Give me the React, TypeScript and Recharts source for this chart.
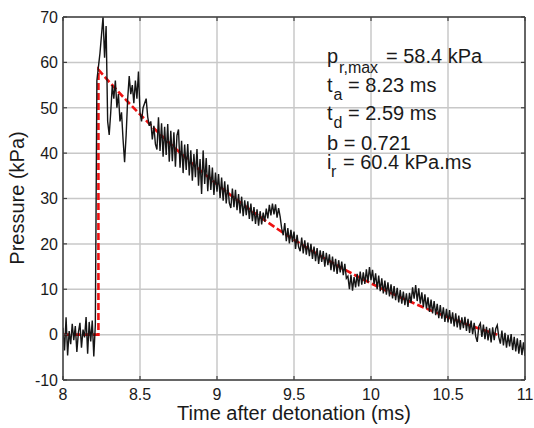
import React from 'react';
import { LineChart, Line, XAxis, YAxis, CartesianGrid } from 'recharts';

const X_TICKS = [8, 8.5, 9, 9.5, 10, 10.5, 11];
const Y_TICKS = [-10, 0, 10, 20, 30, 40, 50, 60, 70];
const X_MIN = 8;
const X_MAX = 11;
const Y_MIN = -10;
const Y_MAX = 70;

// measured pressure (kPa), sampled every 0.01 ms from 8.00 ms
const T_START = 8.0;
const T_STEP = 0.01;
const measuredPressure = [
  // 8.00 - 8.21
  1.5, -3.5, 3.8, -4.6, 0.8, -2.1, 2.4, -1.2, 1.9, -3.8, 0.5, 2.6, -2.9, 1.1, -0.6, 3.9, -4.2, 2.8, -1.5, 3.1, -4.8, 2.2,
  // 8.22 - 8.60
  56, 59, 62, 66, 70, 61, 68, 47, 44, 49, 55, 52, 56, 50, 53, 47, 49, 43, 38, 44,
  52, 57, 53, 55, 51, 56, 52, 58, 49, 47, 50, 51, 52, 48, 46, 47, 43, 46, 42,
  // 8.61 - 11.00
  40.8, 47.9, 40.5, 46.6, 39.2, 45.8, 39.6, 46.4, 38.1, 44.9,
  38.2, 44.6, 37.0, 43.9, 45.2, 36.8, 42.7, 35.6, 41.9, 36.3,
  42.0, 35.1, 40.6, 33.9, 39.8, 34.7, 40.9, 32.8, 38.7, 31.0,
  40.6, 33.2, 38.9, 31.6, 37.4, 31.9, 36.8, 30.8, 35.7, 31.5,
  35.4, 30.1, 34.6, 29.5, 33.8, 28.9, 33.1, 29.0, 27.9, 32.2,
  28.1, 31.9, 27.4, 31.0, 26.7, 30.4, 26.1, 29.6, 26.3, 29.4,
  25.5, 28.9, 25.0, 28.1, 24.4, 27.6, 24.0, 27.2, 24.3, 26.9,
  24.9, 27.8, 25.6, 28.6, 26.3, 28.9, 26.5, 28.7, 25.8, 27.9,
  26.0, 23.4, 21.9, 24.6, 20.6, 23.5, 20.1, 23.1, 20.4, 22.7,
  18.9, 22.0, 19.3, 18.4, 21.4, 17.9, 20.8, 17.6, 20.3, 17.3,
  20.0, 16.7, 19.4, 16.2, 19.1, 15.6, 18.6, 16.0, 18.4, 15.0,
  18.0, 15.3, 17.7, 14.2, 17.2, 13.9, 16.7, 13.4, 16.4, 13.7,
  16.1, 13.1, 15.6, 12.4, 12.9, 10.0, 13.2, 9.7, 12.7, 10.4,
  13.4, 10.6, 13.9, 11.0, 13.7, 11.2, 14.4, 11.5, 14.9, 12.0,
  14.3, 11.1, 13.5, 10.0, 13.0, 9.6, 12.4, 9.1, 11.9, 8.8,
  11.5, 8.4, 11.1, 8.0, 10.7, 7.6, 10.3, 7.1, 9.8, 6.8,
  9.5, 6.5, 9.1, 6.1, 9.2, 7.0, 10.4, 7.9, 10.9, 7.4,
  10.2, 6.8, 9.3, 6.1, 8.9, 5.7, 8.2, 5.0, 7.7, 4.7,
  7.4, 4.3, 6.8, 3.6, 6.5, 3.5, 6.0, 2.8, 5.7, 2.7,
  5.4, 2.4, 4.9, 1.8, 4.7, 1.6, 4.2, 1.1, 3.8, 1.4,
  3.9, 0.8, 3.5, 0.4, 3.1, 0.1, 2.6, -0.4, -1.6, 1.8,
  2.5, -0.5, 2.2, -1.0, 1.7, -1.3, 1.4, -1.7, 1.6, -1.2,
  1.3, 2.1, -0.6, -2.0, 0.9, -2.4, 0.4, -2.9, -0.1, -2.6,
  0.1, -3.4, -0.5, -3.7, -0.8, -4.2, -1.2, -4.5, -1.7, -4.7,
];

// Friedlander fit (read values)
const fitTime = [8, 8.23, 8.23, 8.3, 8.4, 8.5, 8.6, 8.7, 8.8, 8.9, 9.0, 9.1, 9.2, 9.3, 9.4, 9.5, 9.6, 9.7, 9.8, 9.9, 10.0, 10.1, 10.2, 10.3, 10.4, 10.5, 10.6, 10.7, 10.82];
const fitPressure = [0, 0, 58.4, 55.72, 52.04, 48.53, 45.16, 41.94, 38.86, 35.93, 33.12, 30.44, 27.88, 25.44, 23.12, 20.9, 18.79, 16.77, 14.86, 13.03, 11.3, 9.65, 8.08, 6.59, 5.18, 3.84, 2.56, 1.36, 0];

const measuredData = measuredPressure.map((p, i) => ({ t: +(T_START + i * T_STEP).toFixed(2), p }));
const fitData = fitTime.map((t, i) => ({ t, p: fitPressure[i] }));

const FONT = 'Liberation Sans, Arial, Helvetica, sans-serif';
const FRAME = '#404040';
const TXT = '#1a1a1a';
const GRID = '#c8c8c8';

const CHART_W = 534;
const CHART_H = 428;
const M_TOP = 17;
const M_RIGHT = 9;
const X_AXIS_H = 48;
const Y_AXIS_W = 63;
const PLOT_W = CHART_W - Y_AXIS_W - M_RIGHT;
const PLOT_H = CHART_H - M_TOP - X_AXIS_H;

// tickSize 0 / tickMargin 0 => (x, y) is the tick's spot on the axis line
const BottomTick = (props: any) => {
  const { x, y, payload } = props;
  const v = payload.value;
  const top = y - PLOT_H;
  return (
    <g>
      {v === X_MAX && <line x1={x} y1={y} x2={x} y2={top} stroke={FRAME} strokeWidth={1.5} />}
      <line x1={x} y1={y} x2={x} y2={y - 4} stroke={FRAME} strokeWidth={1.2} />
      <line x1={x} y1={top} x2={x} y2={top + 4} stroke={FRAME} strokeWidth={1.2} />
      <text x={x} y={y + 20} textAnchor="middle" fontSize={16} fill={TXT} fontFamily={FONT}>
        {v}
      </text>
    </g>
  );
};

const LeftTick = (props: any) => {
  const { x, y, payload } = props;
  const v = payload.value;
  const right = x + PLOT_W;
  return (
    <g>
      {v === Y_MAX && <line x1={x} y1={y} x2={right} y2={y} stroke={FRAME} strokeWidth={1.5} />}
      <line x1={x} y1={y} x2={x + 4} y2={y} stroke={FRAME} strokeWidth={1.2} />
      <line x1={right} y1={y} x2={right - 4} y2={y} stroke={FRAME} strokeWidth={1.2} />
      <text x={x - 5} y={y} dy="0.36em" textAnchor="end" fontSize={16} fill={TXT} fontFamily={FONT}>
        {v}
      </text>
    </g>
  );
};

export default function App() {
  return (
    <div style={{ position: 'absolute', left: 0, top: 0, width: CHART_W, height: CHART_H, background: '#fff' }}>
      <LineChart width={CHART_W} height={CHART_H} margin={{ top: M_TOP, right: M_RIGHT, bottom: 0, left: 0 }}>
        <CartesianGrid stroke={GRID} strokeWidth={1.5} />
        <XAxis
          dataKey="t"
          type="number"
          domain={[X_MIN, X_MAX]}
          ticks={X_TICKS}
          interval={0}
          allowDataOverflow
          height={X_AXIS_H}
          tickSize={0}
          tickMargin={0}
          tick={<BottomTick />}
          axisLine={{ stroke: FRAME, strokeWidth: 1.5 }}
          tickLine={false}
        />
        <YAxis
          type="number"
          domain={[Y_MIN, Y_MAX]}
          ticks={Y_TICKS}
          interval={0}
          allowDataOverflow
          width={Y_AXIS_W}
          tickSize={0}
          tickMargin={0}
          tick={<LeftTick />}
          axisLine={{ stroke: FRAME, strokeWidth: 1.5 }}
          tickLine={false}
        />
        <Line data={fitData} dataKey="p" stroke="#ee1111" strokeWidth={2.6} strokeDasharray="7 3" dot={false} isAnimationActive={false} />
        <Line data={measuredData} dataKey="p" stroke="#151515" strokeWidth={1.4} dot={false} isAnimationActive={false} />
      </LineChart>
      <svg
        width={CHART_W}
        height={CHART_H}
        style={{ position: 'absolute', left: 0, top: 0, pointerEvents: 'none' }}
        fontFamily={FONT}
        fill={TXT}
      >
        <text x={294} y={420} textAnchor="middle" fontSize={20}>Time after detonation (ms)</text>
        <text x={23.5} y={198} textAnchor="middle" fontSize={20} transform="rotate(-90 23.5 198)">Pressure (kPa)</text>

        <text x={327} y={63} fontSize={20}>p</text>
        <text x={339} y={73} fontSize={16}>r,max</text>
        <text x={386} y={63} fontSize={20}>= 58.4 kPa</text>

        <text x={327} y={92} fontSize={20}>t</text>
        <text x={333.5} y={100} fontSize={16}>a</text>
        <text x={348} y={92} fontSize={20}>= 8.23 ms</text>

        <text x={327} y={120} fontSize={20}>t</text>
        <text x={333.5} y={128} fontSize={16}>d</text>
        <text x={348} y={120} fontSize={20}>= 2.59 ms</text>

        <text x={327} y={150} fontSize={20}>b = 0.721</text>

        <text x={327} y={169} fontSize={20}>i</text>
        <text x={331} y={177} fontSize={16}>r</text>
        <text x={343} y={169} fontSize={20}>= 60.4 kPa.ms</text>
      </svg>
    </div>
  );
}
